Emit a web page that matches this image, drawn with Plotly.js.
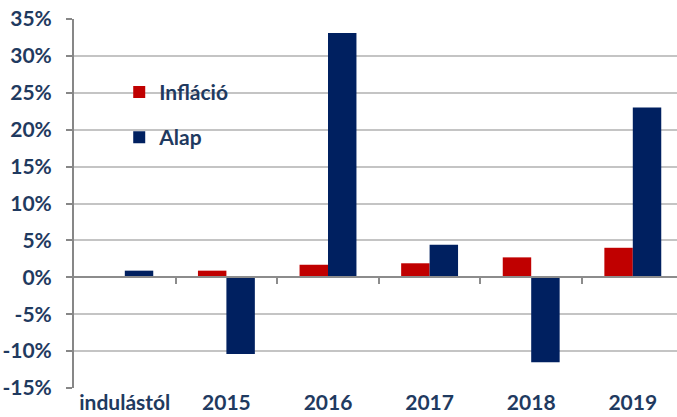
<!DOCTYPE html>
<html>
<head>
<meta charset="utf-8">
<script src="https://cdn.plot.ly/plotly-3.0.1.min.js"></script>
<style>html,body{margin:0;padding:0;background:#fff;}#chart{width:677px;height:417px;}</style>
</head>
<body>
<div id="chart"></div>
<script>
// Data (percent)
const categories = ["indulástól", "2015", "2016", "2017", "2018", "2019"];
const inflacio = [null, 0.9, 1.7, 1.9, 2.7, 4.0];
const alap = [0.9, -10.4, 33.1, 4.4, -11.5, 23.0];
const yTickVals = [-15, -10, -5, 0, 5, 10, 15, 20, 25, 30, 35];
const yTickText = ["-15%", "-10%", "-5%", "0%", "5%", "10%", "15%", "20%", "25%", "30%", "35%"];
const boundaryTicks = [0.5, 1.5, 2.5, 3.5, 4.5];

const navyText = "#1F3A60";
const font = {family: "Lato, 'Liberation Sans', sans-serif", size: 21, color: navyText, weight: "bold"};

const traces = [
  {type: "bar", name: "<b>Infláció</b>", x: categories, y: inflacio, marker: {color: "#C00000"}, legendgroup: "a", hoverinfo: "skip"},
  {type: "bar", name: "<b>Alap</b>", x: categories, y: alap, marker: {color: "#002060"}, legendgroup: "b", hoverinfo: "skip"},
  {type: "scatter", x: [], y: [], xaxis: "x2", yaxis: "y", showlegend: false, hoverinfo: "skip"}
];

const layout = {
  width: 677, height: 417,
  margin: {l: 74, r: 0, t: 19, b: 29, pad: 0},
  paper_bgcolor: "#fff", plot_bgcolor: "#fff",
  font: font,
  barmode: "group", bargap: 0.44, bargroupgap: 0,
  showlegend: true,
  legend: {x: 0.075, y: 0.857, xanchor: "left", yanchor: "top", bgcolor: "rgba(0,0,0,0)",
           font: {family: "Lato, 'Liberation Sans', sans-serif", size: 21, color: navyText, weight: "bold"},
           tracegroupgap: 15, itemwidth: 30},
  xaxis: {type: "category", range: [-0.5, 5.435], showline: false, ticks: "", showgrid: false,
          zeroline: false, tickfont: font, fixedrange: true},
  xaxis2: {overlaying: "x", anchor: "free", position: 0.3, type: "linear", range: [-0.5, 5.435],
           showline: true, linecolor: "#8C8C8C", linewidth: 2,
           ticks: "outside", ticklen: 6, tickwidth: 2, tickcolor: "#8C8C8C",
           tickmode: "array", tickvals: boundaryTicks, showticklabels: false, showgrid: false, zeroline: false},
  yaxis: {range: [-15, 35], tickmode: "array", tickvals: yTickVals, ticktext: yTickText,
          showline: true, linecolor: "#878787", linewidth: 2, ticks: "outside", ticklen: 6, tickwidth: 2,
          tickcolor: "#878787", showgrid: true, gridcolor: "#C4C4C4", gridwidth: 2, zeroline: false,
          tickfont: font, ticklabelstandoff: 10, fixedrange: true}
};

Plotly.newPlot("chart", traces, layout, {displayModeBar: false, staticPlot: true});
</script>
</body>
</html>
